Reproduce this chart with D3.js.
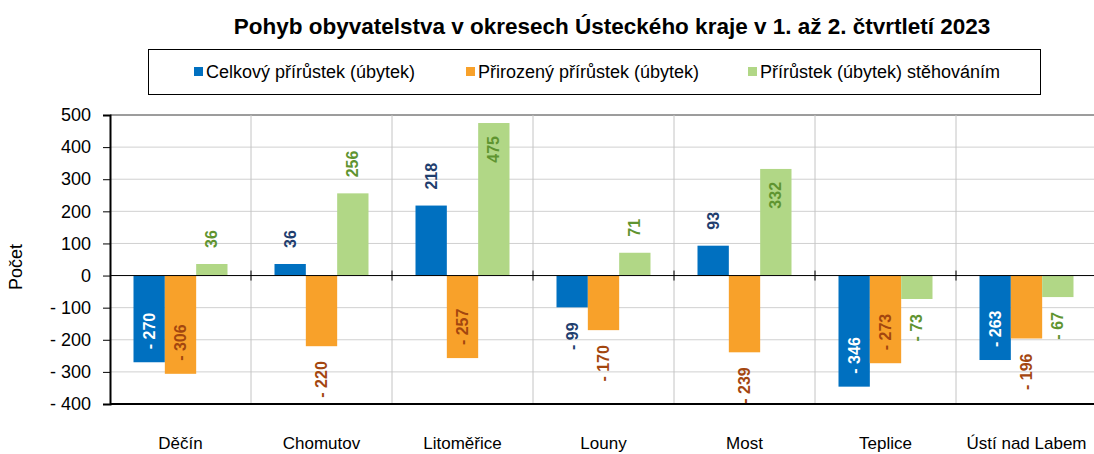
<!DOCTYPE html>
<html>
<head>
<meta charset="utf-8">
<script src="https://cdn.jsdelivr.net/npm/d3@7"></script>
<style>
  body { margin: 0; background: #fff; }
  svg { font-family: "Liberation Sans", Arial, sans-serif; }
</style>
</head>
<body>
<svg id="chart" width="1094" height="454"></svg>
<script>
// data
const districts = ["Děčín", "Chomutov", "Litoměřice", "Louny", "Most", "Teplice", "Ústí nad Labem"];
const seriesNames = ["Celkový přírůstek (úbytek)", "Přirozený přírůstek (úbytek)", "Přírůstek (úbytek) stěhováním"];
const total = [-270, 36, 218, -99, 93, -346, -263];
const natural = [-306, -220, -257, -170, -239, -273, -196];
const migration = [36, 256, 475, 71, 332, -73, -67];
const yTicks = [-400, -300, -200, -100, 0, 100, 200, 300, 400, 500];

const colors = ["#0070C0", "#F8A12A", "#B1D786"];
const labelColors = ["#1F3E6E", "#A3460F", "#5F9430"];
const insideLabelColors = ["#ffffff", "#A3460F", "#5F9430"];

const svg = d3.select("#chart");
const width = 1094, height = 454;
const margin = { top: 115, right: -3, bottom: 50, left: 110 };

const rows = districts.map((d, i) => ({
  name: d,
  values: [total[i], natural[i], migration[i]]
}));

// --- scales ---
const x0 = d3.scaleBand()
  .domain(districts)
  .range([margin.left, width - margin.right])
  .padding(0);

const x1 = d3.scaleBand()
  .domain([0, 1, 2])
  .range([0, x0.bandwidth()])
  .paddingInner(0)
  .paddingOuter(0.75);

const y = d3.scaleLinear()
  .domain([-400, 500])
  .range([height - margin.bottom, margin.top]);

// --- gridlines ---
svg.append("g")
  .selectAll("line")
  .data(yTicks)
  .join("line")
  .attr("x1", margin.left)
  .attr("x2", width - margin.right)
  .attr("y1", d => y(d))
  .attr("y2", d => y(d))
  .attr("stroke", d => d === 500 ? "#3a3a3a" : "#d0d0d0")
  .attr("stroke-width", 1);

svg.append("g")
  .selectAll("line")
  .data(districts.slice(1))
  .join("line")
  .attr("x1", d => x0(d))
  .attr("x2", d => x0(d))
  .attr("y1", y(500))
  .attr("y2", y(-400))
  .attr("stroke", "#c4c4c4");

// --- bars ---
const groups = svg.append("g")
  .selectAll("g")
  .data(rows)
  .join("g")
  .attr("transform", d => `translate(${x0(d.name)},0)`);

groups.selectAll("rect")
  .data(d => d.values.map((v, k) => ({ v, k })))
  .join("rect")
  .attr("x", d => x1(d.k))
  .attr("width", x1.bandwidth())
  .attr("y", d => y(Math.max(0, d.v)))
  .attr("height", d => Math.abs(y(d.v) - y(0)))
  .attr("fill", d => colors[d.k]);

// --- zero line with ticks ---
svg.append("line")
  .attr("x1", margin.left)
  .attr("x2", width - margin.right)
  .attr("y1", y(0))
  .attr("y2", y(0))
  .attr("stroke", "#000");

svg.append("g")
  .selectAll("line")
  .data(districts.slice(1))
  .join("line")
  .attr("x1", d => x0(d))
  .attr("x2", d => x0(d))
  .attr("y1", y(0) - 5)
  .attr("y2", y(0) + 5)
  .attr("stroke", "#000");

// bottom line
svg.append("line")
  .attr("x1", margin.left)
  .attr("x2", width - margin.right)
  .attr("y1", y(-400))
  .attr("y2", y(-400))
  .attr("stroke", "#000")
  .attr("stroke-width", 2);

// --- y axis ---
const fmt = v => v < 0 ? "- " + Math.abs(v) : String(v);
const yAxis = svg.append("g")
  .attr("transform", `translate(${margin.left},0)`)
  .call(d3.axisLeft(y).tickValues(yTicks).tickFormat(fmt).tickSize(7).tickPadding(12));
yAxis.select(".domain").attr("stroke", "#000").attr("stroke-width", 2);
yAxis.selectAll(".tick line").attr("stroke", "#000");
yAxis.selectAll(".tick text")
  .style("font-size", "18px")
  .attr("fill", "#000");

// y title
svg.append("text")
  .attr("transform", `translate(22, 267) rotate(-90)`)
  .attr("text-anchor", "middle")
  .style("font-size", "18px")
  .text("Počet");

// category labels
svg.append("g")
  .selectAll("text")
  .data(districts)
  .join("text")
  .attr("x", d => x0(d) + x0.bandwidth() / 2)
  .attr("y", 449)
  .attr("text-anchor", "middle")
  .style("font-size", "17px")
  .text(d => d);

// --- data labels ---
const insideMin = 257;
groups.selectAll("text")
  .data(d => d.values.map((v, k) => ({ v, k })))
  .join("text")
  .attr("transform", d => {
    const cx = x1(d.k) + x1.bandwidth() / 2;
    const inside = Math.abs(d.v) >= insideMin;
    let ty;
    if (d.v >= 0) ty = inside ? y(d.v) + 13 : y(d.v) - 16;
    else ty = inside ? y(d.v) - 13 : y(d.v) + 15;
    return `translate(${cx},${ty}) rotate(-90)`;
  })
  .attr("text-anchor", d => {
    const inside = Math.abs(d.v) >= insideMin;
    if (d.v >= 0) return inside ? "end" : "start";
    return inside ? "start" : "end";
  })
  .attr("dominant-baseline", "central")
  .attr("fill", d => Math.abs(d.v) >= insideMin ? insideLabelColors[d.k] : labelColors[d.k])
  .style("font-size", "16px")
  .style("font-weight", "bold")
  .text(d => fmt(d.v));

// --- title ---
svg.append("text")
  .attr("x", 612)
  .attr("y", 34)
  .attr("text-anchor", "middle")
  .style("font-size", "22.5px")
  .style("font-weight", "bold")
  .text("Pohyb obyvatelstva v okresech Ústeckého kraje v 1. až 2. čtvrtletí 2023");

// --- legend ---
const legend = svg.append("g");
legend.append("rect")
  .attr("x", 148.5)
  .attr("y", 49.5)
  .attr("width", 892)
  .attr("height", 45)
  .attr("fill", "#fff")
  .attr("stroke", "#000");

const legendX = [194, 466, 748];
seriesNames.forEach((s, k) => {
  legend.append("rect")
    .attr("x", legendX[k])
    .attr("y", 67)
    .attr("width", 9)
    .attr("height", 9)
    .attr("fill", colors[k]);
  legend.append("text")
    .attr("x", legendX[k] + 12)
    .attr("y", 78)
    .style("font-size", "18px")
    .text(s);
});
</script>
</body>
</html>
